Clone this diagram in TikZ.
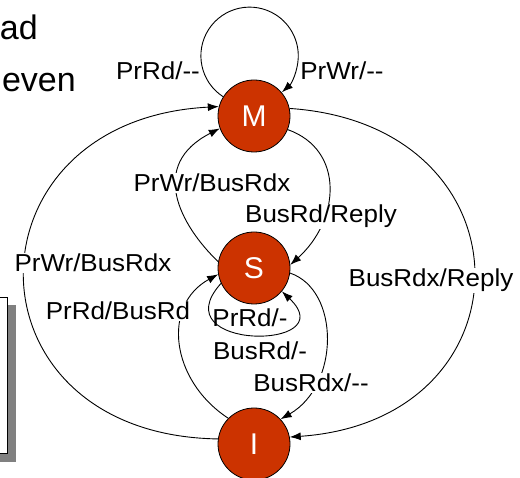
\documentclass[tikz,border=0pt]{standalone}
\usepackage{fontspec}
\setmainfont{Liberation Sans}
\usetikzlibrary{arrows.meta}
\definecolor{stfill}{RGB}{204,51,0}
\definecolor{shadowgray}{RGB}{128,128,128}
\newcommand\lbx[1]{\scalebox{1.06}[1]{#1}}
\tikzset{
  st/.style={circle, draw=black, line width=0.8pt, fill=stfill, minimum size=72pt, inner sep=0pt,
    text=white, font=\fontsize{30}{34}\selectfont},
  lbl/.style={font=\fontsize{24.5}{28}\selectfont, inner sep=1pt, anchor=base},
  lblw/.style={lbl, fill=white},
  tr/.style={line width=0.9pt, -{Latex[length=11pt,width=8pt]}},
  big/.style={font=\fontsize{34}{38}\selectfont, inner sep=0pt, anchor=base east}
}
\begin{document}
\begin{tikzpicture}[x=1pt,y=-1pt]
\useasboundingbox (0,0) rectangle (520,478);
% partial slide text
\node[big] (t1) at (38,40) {ad};
\node[big] (t2) at (76,92) {even};
% partial box with shadow
\fill[shadowgray] (-5,305) rectangle (16,462);
\draw[fill=white, line width=0.9pt] (-5,297) rectangle (7,453);
% states
\node[st] (M) at (254,116) {M};
\node[st] (S) at (254,268) {S};
\node[st] (I) at (254,444) {I};
% transitions
\draw[tr] (M.148) arc[start angle=122.9, end angle=408.4, radius=48.7];
\draw[tr] (I.172) .. controls (-40,435) and (-40,120) .. (M.165);
\draw[tr] (M.12) .. controls (535,125) and (535,420) .. (I.11);
\draw[tr] (M.338) .. controls (345,150) and (340,220) .. (S.5);
\draw[tr] (S.170) .. controls (180,225) and (148,165) .. (M.200);
\draw[tr] (I.135) .. controls (170,380) and (162,305) .. (S.190);
\draw[tr] (S.205) .. controls (160,351) and (345,351) .. (S.320);
\draw[tr] (S.352) .. controls (340,290) and (340,385) .. (I.43);
% labels
\node[lbl] (l1) at (158,80) {\lbx{PrRd/-{}-}};
\node[lbl] (l2) at (342,80) {\lbx{PrWr/-{}-}};
\node[lblw] (l3) at (212,192) {\lbx{PrWr/BusRdx}};
\node[lblw] (l4) at (321,223) {\lbx{BusRd/Reply}};
\node[lblw] (l5) at (93,272) {\lbx{PrWr/BusRdx}};
\node[lblw] (l6) at (431,287) {\lbx{BusRdx/Reply}};
\node[lblw] (l7) at (118,320) {\lbx{PrRd/BusRd}};
\node[lbl] (l8) at (250,327) {\lbx{PrRd/-}};
\node[lblw] (l9) at (260,360) {\lbx{BusRd/-}};
\node[lblw] (l10) at (311,392) {\lbx{BusRdx/-{}-}};
\end{tikzpicture}
\end{document}
